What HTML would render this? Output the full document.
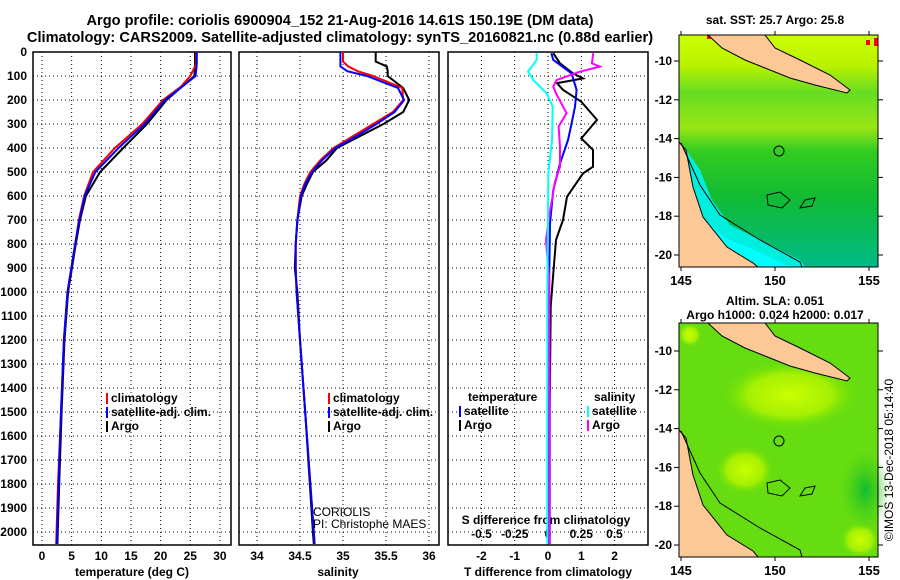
<!DOCTYPE html>
<html><head><meta charset="utf-8"><style>
html,body{margin:0;padding:0;background:#fff}
svg{display:block;font-family:"Liberation Sans",sans-serif}
.t{font-weight:bold;font-size:12px}
.tt{font-weight:bold;font-size:14.6px}
</style></head><body>
<svg id="fig" width="900" height="580" viewBox="0 0 900 580" xmlns="http://www.w3.org/2000/svg">
<defs>
<linearGradient id="sstg" x1="0" y1="0" x2="0" y2="1">
<stop offset="0" stop-color="#ccff00"/><stop offset="0.13" stop-color="#bbf200"/><stop offset="0.25" stop-color="#66dd22"/>
<stop offset="0.4" stop-color="#99e615"/><stop offset="0.5" stop-color="#33cc22"/><stop offset="0.7" stop-color="#11bb33"/><stop offset="1" stop-color="#00bb88"/>
</linearGradient>
<radialGradient id="slay" cx="0.5" cy="0.5" r="0.5"><stop offset="0" stop-color="#ccff00"/><stop offset="0.6" stop-color="#b5f500" stop-opacity="0.8"/><stop offset="1" stop-color="#66dd00" stop-opacity="0"/></radialGradient>
<radialGradient id="slad" cx="0.5" cy="0.5" r="0.5"><stop offset="0" stop-color="#11bb33"/><stop offset="1" stop-color="#44cc11" stop-opacity="0"/></radialGradient>
</defs>
<text class="tt" x="340" y="25" text-anchor="middle">Argo profile: coriolis 6900904_152 21-Aug-2016 14.61S 150.19E (DM data)</text>
<text class="tt" x="340" y="42" text-anchor="middle">Climatology: CARS2009. Satellite-adjusted climatology: synTS_20160821.nc (0.88d earlier)</text>
<g id="panels"></g>

<!-- maps -->
<g>
<text class="t" x="775" y="24" text-anchor="middle">sat. SST: 25.7 Argo: 25.8</text>
<rect x="679" y="35" width="199" height="232" fill="url(#sstg)"/>
<rect x="866" y="40" width="4" height="5" fill="#ff0000"/><rect x="874" y="38" width="4" height="8" fill="#ff0000"/><rect x="707" y="35" width="4" height="4" fill="#ff0000"/>
<polygon points="683,145 700,170 712,200 730,225 760,240 800,260 805,267 758,267 753,263 727,247 703,217 693,187" fill="#00eedd"/>
<polygon points="700,215 725,238 755,250 790,267 758,267 727,247" fill="#00ffff"/>
<polygon points="708,35 765,35 775,48 800,60 830,75 850,90 847,93 815,85 790,78 770,70 745,60 722,48" fill="#fcc896" stroke="#000" stroke-width="1"/>
<polygon points="679,142 686,150 693,187 703,217 727,247 753,263 758,267 679,267" fill="#fcc896" stroke="#000" stroke-width="1"/>
<polyline points="681,143 700,185 720,215 760,240 800,262 802,267" fill="none" stroke="#000" stroke-width="1"/>
<polygon points="767,195 780,192 790,200 782,208 768,205" fill="none" stroke="#000"/>
<polygon points="805,200 815,198 812,206 800,208" fill="none" stroke="#000"/>
<circle cx="779" cy="151" r="5" fill="none" stroke="#000"/>
<rect x="679" y="35" width="199" height="232" fill="none" stroke="#000"/>
<g id="sstax"></g>
</g>
<g>
<text class="t" x="775" y="305" text-anchor="middle">Altim. SLA: 0.051</text>
<text class="t" x="775" y="319" text-anchor="middle">Argo h1000: 0.024 h2000: 0.017</text>
<rect x="679" y="323" width="199" height="234" fill="#66dd11"/>
<ellipse cx="790" cy="395" rx="70" ry="35" fill="url(#slay)"/>
<ellipse cx="745" cy="470" rx="30" ry="25" fill="url(#slay)"/>
<ellipse cx="860" cy="540" rx="20" ry="18" fill="url(#slay)"/>
<ellipse cx="865" cy="490" rx="25" ry="40" fill="url(#slad)"/>
<ellipse cx="690" cy="335" rx="12" ry="12" fill="url(#slay)"/>
<polygon points="708,323 765,323 775,336 800,348 830,363 850,378 847,381 815,373 790,366 770,358 745,348 722,336" fill="#fcc896" stroke="#000" stroke-width="1"/>
<polygon points="679,430 686,438 693,475 703,505 727,535 753,551 758,557 679,557" fill="#fcc896" stroke="#000" stroke-width="1"/>
<polyline points="681,431 700,473 720,503 760,528 800,550 802,557" fill="none" stroke="#000" stroke-width="1"/>
<polygon points="767,483 780,480 790,488 782,496 768,493" fill="none" stroke="#000"/>
<polygon points="805,488 815,486 812,494 800,496" fill="none" stroke="#000"/>
<circle cx="779" cy="441" r="5" fill="none" stroke="#000"/>
<rect x="679" y="323" width="199" height="234" fill="none" stroke="#000"/>
<g id="slaax"></g>
</g>
<text x="893" y="460" font-size="12" text-anchor="middle" transform="rotate(-90 893 460)" dy="0">©IMOS 13-Dec-2018 05:14:40</text>
</svg>
<script>
// ---- data ----
const depthTicks=[0,100,200,300,400,500,600,700,800,900,1000,1100,1200,1300,1400,1500,1600,1700,1800,1900,2000];
const tTicks=[0,5,10,15,20,25,30];
const sTicks=[34,34.5,35,35.5,36];
const tdTicks=[-2,-1,0,1,2];
const sdTicks=[-0.5,-0.25,0,0.25,0.5];
const sdTickLabels=["-0.5","-0.25","0","0.25","0.5"];
const tempDepth=[0,50,100,145,200,300,400,500,600,700,800,1000,1200,1500,1800,2050];
const tempArgo=[25.8,25.8,25.7,23.6,21.0,17.7,13.7,9.8,7.4,6.4,5.7,4.4,3.8,3.3,2.9,2.6];
const tempClim=[26.0,26.0,25.0,23.4,20.4,16.9,12.3,8.6,7.1,6.2,5.6,4.3,3.7,3.2,2.7,2.4];
const tempSat=[26.1,26.1,25.9,23.6,20.7,17.3,12.9,9.0,7.2,6.3,5.6,4.3,3.7,3.2,2.8,2.5];
const salDepth=[0,40,60,80,100,150,200,250,300,350,400,450,500,550,600,700,800,900,1000,1200,1500,2000,2050];
const salArgo=[35.38,35.38,35.51,35.52,35.52,35.70,35.77,35.70,35.47,35.20,34.93,34.81,34.65,34.58,34.52,34.47,34.45,34.44,34.47,34.5,34.56,34.65,34.66];
const salClim=[35.0,35.0,35.06,35.17,35.35,35.69,35.70,35.58,35.35,35.12,34.89,34.74,34.62,34.55,34.50,34.47,34.45,34.45,34.46,34.5,34.56,34.66,34.67];
const salSat=[34.97,34.97,34.97,35.05,35.28,35.64,35.71,35.60,35.39,35.16,34.91,34.76,34.64,34.56,34.51,34.47,34.45,34.45,34.46,34.5,34.56,34.66,34.67];
const tdArgoDepth=[5,47,89,110,130,158,207,283,360,408,478,506,603,700,783,922,1061,1500,2050];
const tdArgo=[0.16,0.36,0.75,1.05,0.27,0.45,1.0,1.47,1.0,1.35,1.35,1.05,0.57,0.45,0.24,0.16,0.08,0.05,0.05];
const tdSatDepth=[5,33,89,158,228,297,367,464,575,714,1000,1500,2050];
const tdSat=[0.1,0.16,0.71,0.86,0.81,0.71,0.6,0.36,0.16,0.06,0.03,0.02,0.02];
const sdArgoDepth=[5,47,61,82,117,144,172,255,311,394,478,547,617,644,783,950,1500,2050];
const sdArgo=[0.34,0.33,0.39,0.24,0.065,0.04,0.06,0.14,0.08,0.09,0.09,0.05,0.03,0.02,-0.015,0.01,0.012,0.012];
const sdSatDepth=[5,33,82,117,172,228,367,506,700,1000,1500,2050];
const sdSat=[-0.085,-0.085,-0.15,-0.11,-0.01,0.035,0.03,0.002,0.0,-0.005,-0.005,-0.005];
const lonTicks=[145,150,155];
const latTicks=[-10,-12,-14,-16,-18,-20];

const NS="http://www.w3.org/2000/svg";
const root=document.getElementById('panels');
function el(tag,attrs,parent,txt){const e=document.createElementNS(NS,tag);for(const k in attrs)e.setAttribute(k,attrs[k]);if(txt!==undefined)e.textContent=txt;(parent||root).appendChild(e);return e;}
const Y0=52,YB=545;
function yD(d){return Y0+d*0.24;}
function xT(t){return 42+t*5.93;}
function xS(s){return 257+(s-34)*86;}
function xTd(v){return 548+v*33.3;}
function xSd(v){return 548+v*133;}
const panels=[[33,231],[239,439],[448,648]];
panels.forEach((p,i)=>{
  const g=el('g',{});
  
  
  depthTicks.forEach(d=>{if(d>0){const l=el('line',{x1:p[0],x2:p[1],y1:yD(d),y2:yD(d),stroke:'#000','stroke-dasharray':'1,3'},g);
    }});
  const xs=i==0?tTicks.map(xT):i==1?sTicks.map(xS):tdTicks.map(xTd);
  xs.forEach(x=>{const l=el('line',{x1:x,x2:x,y1:Y0,y2:YB,stroke:'#000','stroke-dasharray':'1,3'},g);
    });
  const r=el('rect',{x:p[0],y:Y0,width:p[1]-p[0],height:YB-Y0,fill:'none',stroke:'#000','stroke-width':1.5},g);
  
});
depthTicks.forEach(d=>{const t=el('text',{x:27,y:yD(d)+4,'text-anchor':'end',class:'t'},root,String(d));
  });
tTicks.forEach(v=>{const t=el('text',{x:xT(v),y:560,'text-anchor':'middle',class:'t'},root,String(v));
  });
sTicks.forEach(v=>{const t=el('text',{x:xS(v),y:560,'text-anchor':'middle',class:'t'},root,String(v));
  });
tdTicks.forEach(v=>{const t=el('text',{x:xTd(v),y:560,'text-anchor':'middle',class:'t'},root,String(v));
  });
sdTicks.forEach((v,i)=>{const t=el('text',{x:xSd(v),y:538,'text-anchor':'middle',class:'t'},root,sdTickLabels[i]);
  });
[[132,'temperature (deg C)','x-axis-title-temperature'],[338,'salinity','x-axis-title-salinity'],[548,'T difference from climatology','x-axis-title-tdiff']].forEach(a=>{
  const t=el('text',{x:a[0],y:576,'text-anchor':'middle',class:'t'},root,a[1]);
  });
const st=el('text',{x:546,y:524,'text-anchor':'middle',class:'t'},root,'S difference from climatology');


function line(xf,vals,depths,color,name,w){
  const pts=vals.map((v,i)=>xf(v).toFixed(1)+','+yD(depths[i]).toFixed(1)).join(' ');
  const l=el('polyline',{points:pts,fill:'none',stroke:color,'stroke-width':w||2});
  
}
line(xT,tempArgo,tempDepth,'#000','temp-argo-line');
line(xT,tempClim,tempDepth,'#ff0000','temp-climatology-line');
line(xT,tempSat,tempDepth,'#0000ff','temp-satellite-line');
line(xS,salArgo,salDepth,'#000','sal-argo-line');
line(xS,salClim,salDepth,'#ff0000','sal-climatology-line');
line(xS,salSat,salDepth,'#0000ff','sal-satellite-line');
line(xTd,tdArgo,tdArgoDepth,'#000','tdiff-argo-line');
line(xTd,tdSat,tdSatDepth,'#0000ff','tdiff-satellite-line');
line(xSd,sdArgo,sdArgoDepth,'#ff00ff','sdiff-argo-line');
line(xSd,sdSat,sdSatDepth,'#00ffff','sdiff-satellite-line');

function legend(x,y,color,label,name){
  const g=el('g',{});
  
  if(color) el('rect',{x:x,y:y-9,width:2,height:11,fill:color},g);
  el('text',{x:x+5,y:y,class:'t'},g,label);
}
legend(106,402,'#ff0000','climatology','legend-climatology');
legend(106,416,'#0000ff','satellite-adj. clim.','legend-satellite-adj');
legend(106,430,'#000','Argo','legend-argo');
legend(328,402,'#ff0000','climatology','legend-climatology-sal');
legend(328,416,'#0000ff','satellite-adj. clim.','legend-satellite-adj-sal');
legend(328,430,'#000','Argo','legend-argo-sal');
legend(463,401,null,'temperature','legend-temperature-header');
legend(459,415,'#0000ff','satellite','legend-t-satellite');
legend(459,429,'#000','Argo','legend-t-argo');
legend(589,401,null,'salinity','legend-salinity-header');
legend(587,415,'#00ffff','satellite','legend-s-satellite');
legend(587,429,'#ff00ff','Argo','legend-s-argo');
const c1=el('text',{x:313,y:516,'font-size':12},root,'CORIOLIS');
const c2=el('text',{x:313,y:528,'font-size':12},root,'PI: Christophe MAES');

function mapAxes(gid,top,bot,lat10y,lat20y){
  const g=document.getElementById(gid);
  const lx=v=>681+(v-145)*18.8;
  const ly=v=>lat10y+(-10-v)*(lat20y-lat10y)/10;
  lonTicks.forEach(v=>{el('line',{x1:lx(v),x2:lx(v),y1:top-4,y2:top,stroke:'#000'},g);el('line',{x1:lx(v),x2:lx(v),y1:bot,y2:bot+4,stroke:'#000'},g);
    const t=el('text',{x:lx(v),y:bot+18,'text-anchor':'middle','font-size':13,'font-weight':'bold'},g,String(v));
    });
  latTicks.forEach(v=>{el('line',{x1:878,x2:883,y1:ly(v),y2:ly(v),stroke:'#000'},g);
    el('line',{x1:674,x2:679,y1:ly(v),y2:ly(v),stroke:'#000'},g);
    const t=el('text',{x:672,y:ly(v)+4,'text-anchor':'end',class:'t'},g,String(v));
    });
}
mapAxes('sstax',35,267,61,255);
mapAxes('slaax',323,557,351,545);
</script>
</body></html>
